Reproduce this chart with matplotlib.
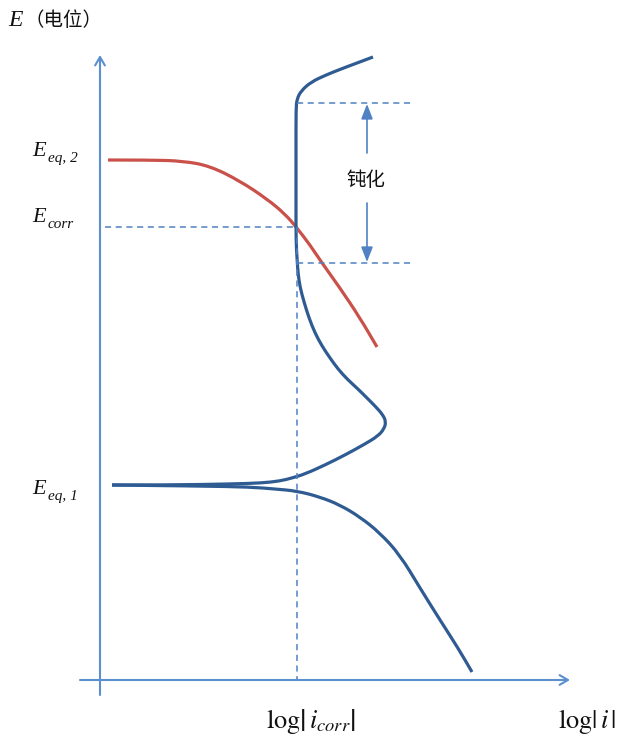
import matplotlib
matplotlib.use("Agg")
import matplotlib.pyplot as plt
from matplotlib.path import Path
from matplotlib.patches import PathPatch

plt.rcParams['mathtext.fontset'] = 'stix'

red_x = [108, 150, 183, 210, 240, 267, 285, 297, 310, 322, 340, 360, 377]
red_y = [160, 160, 161, 166, 181, 199, 214, 228, 245, 263, 288, 318, 347]

anodic_x = [112, 170, 230, 262, 280, 292, 305, 325, 345, 365, 378, 384, 386, 383, 376, 368, 358, 347,
            338, 330, 322, 315, 309, 304, 300, 298, 297, 296, 296, 296, 296, 297, 301, 311, 326, 341, 357, 373]
anodic_y = [485, 485, 484, 483, 481, 478, 474, 465, 455, 444, 436, 429, 422, 415, 407, 399, 389, 379,
            369, 358, 346, 333, 318, 302, 287, 273, 258, 240, 200, 150, 108, 99, 91, 82, 75, 69, 63, 57]

cath_x = [112, 200, 250, 275, 297, 320, 340, 360, 380, 400, 420, 440, 458, 472]
cath_y = [485, 486, 487, 489, 491, 497, 505, 517, 533, 555, 588, 620, 648, 672]

E_corr_y = 227
i_corr_x = 297
pass_top_y = 103
pass_bot_y = 263

AXIS_C = '#5b8fd0'
BLUE = '#2f5b93'
RED = '#c9514a'
DASH_C = '#4f81c4'
TXT = '#111111'

fig = plt.figure(figsize=(6.2, 7.38), dpi=100)
ax = fig.add_axes([0, 0, 1, 1])
ax.set_xlim(0, 620)
ax.set_ylim(738, 0)
ax.axis('off')


def smooth_curve(xs, ys, color):
    pts = list(zip(xs, ys))
    verts = [pts[0]]
    codes = [Path.MOVETO]
    for i in range(1, len(pts) - 1):
        mx = (pts[i][0] + pts[i + 1][0]) / 2.0
        my = (pts[i][1] + pts[i + 1][1]) / 2.0
        verts += [pts[i], (mx, my)]
        codes += [Path.CURVE3, Path.CURVE3]
    verts.append(pts[-1])
    codes.append(Path.LINETO)
    ax.add_patch(PathPatch(Path(verts, codes), fill=False, edgecolor=color, lw=2.3,
                           capstyle='butt', joinstyle='round'))


# axes arrows
ax.annotate('', xy=(100, 55), xytext=(100, 695),
            arrowprops=dict(arrowstyle='->,head_length=0.6,head_width=0.35', color=AXIS_C, lw=1.5,
                            shrinkA=0, shrinkB=0))
ax.annotate('', xy=(570, 680), xytext=(80, 680),
            arrowprops=dict(arrowstyle='->,head_length=0.6,head_width=0.35', color=AXIS_C, lw=1.5,
                            shrinkA=0, shrinkB=0))

# dashed guide lines
dash = dict(color=DASH_C, lw=1.1, ls=(0, (4, 3)))
ax.plot([105, i_corr_x], [E_corr_y, E_corr_y], **dash)
ax.plot([i_corr_x, i_corr_x], [E_corr_y, 680], **dash)
ax.plot([i_corr_x, 410], [pass_top_y, pass_top_y], **dash)
ax.plot([i_corr_x, 410], [pass_bot_y, pass_bot_y], **dash)

# curves
smooth_curve(red_x, red_y, RED)
smooth_curve(anodic_x, anodic_y, BLUE)
smooth_curve(cath_x, cath_y, BLUE)

# passivation double arrow
ap = dict(arrowstyle='-|>,head_length=0.9,head_width=0.35', color=DASH_C, lw=1.2, shrinkA=0, shrinkB=0)
ax.annotate('', xy=(367, pass_top_y + 1), xytext=(367, 153), arrowprops=ap)
ax.annotate('', xy=(367, pass_bot_y - 1), xytext=(367, 203), arrowprops=ap)
ax.text(366, 180, '钝化', fontsize=14, family=['Noto Sans CJK SC', 'DejaVu Sans'],
        ha='center', va='center', color=TXT)

# labels
serif_it = dict(family='Liberation Serif', style='italic', color=TXT)
cjk = ['Noto Sans CJK SC', 'DejaVu Sans']

ax.text(8, 20, 'E', fontsize=17, ha='left', va='center', **serif_it)
ax.text(24, 21, '（电位）', fontsize=14, family=cjk, ha='left', va='center', color=TXT)


def e_label(y, sub):
    ax.text(32, y, 'E', fontsize=16, ha='left', va='baseline', **serif_it)
    ax.text(48, y + 6, sub, fontsize=11, ha='left', va='baseline', **serif_it)


e_label(156, 'eq, 2')
e_label(222, 'corr')
e_label(494, 'eq, 1')

ax.text(311, 722, r'$\mathrm{log}\left|\,i_{corr}\right|$', fontsize=19, ha='center', va='center',
        color=TXT)
ax.text(587, 722, r'$\mathrm{log}\left|\,i\,\right|$', fontsize=19, ha='center', va='center',
        color=TXT)

fig.savefig('out.png', dpi=100)
